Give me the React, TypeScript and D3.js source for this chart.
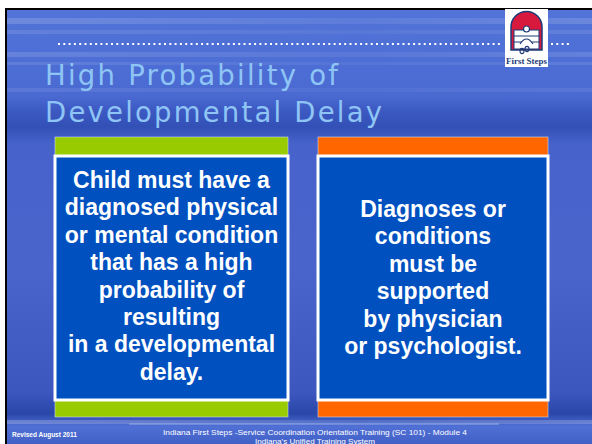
import * as d3 from 'd3'

const titleLines = ['High Probability of', 'Developmental Delay']
const leftLines = [
  'Child must have a',
  'diagnosed physical',
  'or mental condition',
  'that has a high',
  'probability of',
  'resulting',
  'in a developmental',
  'delay.',
]
const rightLines = [
  'Diagnoses or',
  'conditions',
  'must be',
  'supported',
  'by physician',
  'or psychologist.',
]
const panels = ['left', 'right']
const accentColors = ['#99cc00', '#ff6600']
const footerLines = [
  'Indiana First Steps -Service Coordination Orientation Training  (SC 101)  - Module 4',
  "Indiana's Unified Training System",
]
const revised = 'Revised August 2011'

const W = 592
const H = 444

const App = () => {
  // two columns of boxes
  const col = d3.scaleOrdinal<string, [number, number]>()
    .domain(panels)
    .range([[55, 288], [318, 548]])
  const lineY = d3.scaleLinear().domain([0, 1]).range([0, 27.4])
  const titleY = d3.scaleLinear().domain([0, 1]).range([85, 122])
  const streaks = [
    { y: 18, h: 6, o: 0.18 }, { y: 30, h: 4, o: 0.12 }, { y: 52, h: 5, o: 0.15 },
    { y: 62, h: 3, o: 0.12 }, { y: 88, h: 4, o: 0.1 }, { y: 420, h: 4, o: 0.25 },
  ]
  const lines: string[][] = [leftLines, rightLines]
  const firstBase = [188, 217]

  return (
    <svg width={W} height={H} style={{ position: 'absolute', left: 0, top: 0 }}>
      <defs>
        <linearGradient id="bg" x1="0" y1="0" x2="0" y2="1">
          <stop offset="0" stopColor="#5274d8" />
          <stop offset="0.2" stopColor="#4a6ad2" />
          <stop offset="0.23" stopColor="#3e5bc4" />
          <stop offset="0.27" stopColor="#3250b6" />
          <stop offset="0.31" stopColor="#4763cb" />
          <stop offset="0.6" stopColor="#4965cc" />
          <stop offset="0.88" stopColor="#3c58bf" />
          <stop offset="0.93" stopColor="#2a46a8" />
          <stop offset="0.96" stopColor="#5070d6" />
          <stop offset="1" stopColor="#4260c6" />
        </linearGradient>
        <linearGradient id="streak" x1="0" y1="0" x2="1" y2="0">
          <stop offset="0" stopColor="#ffffff" stopOpacity="0.9" />
          <stop offset="0.6" stopColor="#ffffff" stopOpacity="0.4" />
          <stop offset="1" stopColor="#ffffff" stopOpacity="0.8" />
        </linearGradient>
      </defs>
      <rect width={W} height={H} fill="#ffffff" />
      <rect x={6} y={9} width={W - 6} height={H - 9} fill="url(#bg)" />
      {streaks.map((s, i) => (
        <rect key={i} x={6} y={s.y} width={W - 6} height={s.h} fill="url(#streak)" opacity={s.o} />
      ))}
      <line x1={5} y1={9} x2={W} y2={9} stroke="#000" strokeWidth={2} />
      <line x1={6} y1={8} x2={6} y2={H} stroke="#000" strokeWidth={2} />

      {/* dotted rule */}
      <line x1={58} y1={44} x2={503} y2={44} stroke="#fff" strokeWidth={2} strokeDasharray="2 3.3" />
      <line x1={551} y1={44} x2={569} y2={44} stroke="#fff" strokeWidth={2} strokeDasharray="2 3.3" />

      {/* logo */}
      <g>
        <rect x={505} y={9} width={43} height={58} fill="#fff" />
        <path d="M511,50 L511,27 A15.5,15.5 0 0 1 542,27 L542,50 Z" fill="#d7193d" stroke="#1d3a78" strokeWidth={1.5} />
        <rect x={514} y={30} width={25} height={19} fill="#fff" stroke="#1d3a78" strokeWidth={1} />
        <line x1={514} y1={36} x2={539} y2={36} stroke="#1d3a78" strokeWidth={1} />
        <line x1={514} y1={42} x2={539} y2={42} stroke="#1d3a78" strokeWidth={1} />
        <circle cx={526.5} cy={29} r={3} fill="#fff" stroke="#1d3a78" strokeWidth={1.2} />
        <path d="M520,44 Q526.5,34 533,44" fill="#fff" stroke="#1d3a78" strokeWidth={1.2} />
        <ellipse cx={522} cy={51} rx={2} ry={2.6} fill="none" stroke="#1d3a78" strokeWidth={1.1} />
        <ellipse cx={527} cy={49} rx={2} ry={2.6} fill="none" stroke="#1d3a78" strokeWidth={1.1} />
        <text x={526.5} y={64} textAnchor="middle" fontFamily="Liberation Serif" fontWeight="bold" fontSize={7.5} fill="#1d3a78" textLength={41} lengthAdjust="spacingAndGlyphs">First Steps</text>
      </g>

      {/* title */}
      {titleLines.map((t, i) => (
        <text key={t} x={45} y={titleY(i)} fontFamily="DejaVu Sans" fontSize={27.5} fill="#8fc5f5"
          textLength={i === 0 ? 293 : 337} lengthAdjust="spacing">{t}</text>
      ))}

      {/* panels */}
      {panels.map((p, i) => {
        const [x0, x1] = col(p)
        const cx = (x0 + x1) / 2
        return (
          <g key={p}>
            <rect x={x0} y={137} width={x1 - x0} height={19} fill={accentColors[i]} stroke="#c8d8f0" strokeWidth={0.6} />
            <rect x={x0} y={399} width={x1 - x0} height={18} fill={accentColors[i]} stroke="#c8d8f0" strokeWidth={0.6} />
            <rect x={x0} y={156} width={x1 - x0} height={244} fill="#0150bf" stroke="#fff" strokeWidth={3} />
            {lines[i].map((l, j) => (
              <text key={j} x={cx} y={firstBase[i] + lineY(j)} textAnchor="middle" fontFamily="Liberation Sans, Arial"
                fontWeight="bold" fontSize={23} fill="#fff">{l}</text>
            ))}
          </g>
        )
      })}

      {/* footer */}
      <line x1={129} y1={424} x2={499} y2={424} stroke="#a9c0ee" strokeWidth={0.8} />
      <text x={12} y={437} fontFamily="Liberation Sans, Arial" fontWeight="bold" fontSize={6.5} fill="#fff">{revised}</text>
      {footerLines.map((f, i) => (
        <text key={i} x={315} y={435 + i * 8.5} textAnchor="middle" fontFamily="Liberation Sans, Arial" fontSize={8}
          fill="#fff" textLength={i === 0 ? 304 : 120} lengthAdjust="spacingAndGlyphs">{f}</text>
      ))}
    </svg>
  )
}

export default App
